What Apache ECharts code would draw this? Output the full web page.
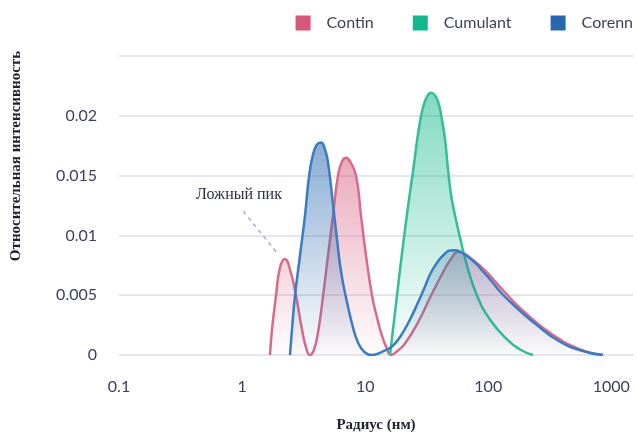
<!DOCTYPE html>
<html><head><meta charset="utf-8">
<script src="https://cdn.jsdelivr.net/npm/echarts@6/dist/echarts.min.js"></script>
<style>html,body{margin:0;padding:0;background:#fff}#c{width:637px;height:432px}</style>
</head><body><div id="c"></div>
<script>
const seriesNames = ['Contin', 'Cumulant', 'Corenn'];

const continRadius = [1.686, 1.750, 1.887, 2.033, 2.232, 2.451, 2.742, 3.068, 3.306, 3.563, 3.840, 4.139, 4.545, 4.991, 5.480, 6.017, 6.484, 6.988, 7.531, 8.425, 9.250, 10.16, 11.37, 12.48, 13.45, 14.77, 16.22, 18.49, 21.08, 26.87, 34.27, 44.54, 49.84, 56.80, 63.55, 72.44, 94.12, 136.8, 198.9, 323.5, 536.2, 855.7];
const continIntensity = [0, 0.00213, 0.00497, 0.00732, 0.00803, 0.00715, 0.00497, 0.00213, 0.00063, 0, 0.00046, 0.00188, 0.00489, 0.00832, 0.01166, 0.01501, 0.01618, 0.01649, 0.01618, 0.01501, 0.01166, 0.00832, 0.00497, 0.00314, 0.00188, 0.00071, 0, 0.00038, 0.00096, 0.00272, 0.00497, 0.00723, 0.00803, 0.00861, 0.00849, 0.00807, 0.00707, 0.00523, 0.00355, 0.00180, 0.00054, 0];

const cumulantRadius = [15.92, 16.83, 18.14, 19.55, 21.08, 22.71, 24.47, 27.38, 29.51, 31.80, 34.27, 36.94, 39.06, 41.32, 44.54, 47.11, 49.84, 53.69, 58.96, 67.21, 81.04, 103.3, 142.0, 181.2, 231.0];
const cumulantIntensity = [0, 0.00213, 0.00497, 0.00782, 0.01049, 0.01300, 0.01534, 0.01902, 0.02069, 0.02161, 0.02192, 0.02170, 0.02120, 0.02011, 0.01802, 0.01551, 0.01342, 0.01166, 0.00982, 0.00748, 0.00497, 0.00297, 0.00130, 0.00046, 0];

const corennRadius = [2.451, 2.544, 2.691, 2.955, 3.245, 3.497, 3.769, 4.062, 4.378, 4.717, 4.991, 5.480, 5.905, 6.364, 6.988, 7.965, 8.746, 9.786, 11.15, 14.50, 16.83, 19.55, 22.71, 26.87, 30.64, 34.27, 39.06, 43.71, 48.91, 53.69, 60.07, 78.06, 90.66, 105.3, 124.6, 153.1, 191.6, 239.8, 368.7, 567.1, 855.7];
const corennIntensity = [0, 0.00213, 0.00497, 0.00832, 0.01166, 0.01492, 0.01676, 0.01760, 0.01777, 0.01718, 0.01609, 0.01258, 0.00966, 0.00698, 0.00481, 0.00230, 0.00105, 0.00029, 0, 0.00038, 0.00079, 0.00163, 0.00280, 0.00439, 0.00573, 0.00690, 0.00782, 0.00840, 0.00874, 0.00876, 0.00861, 0.00773, 0.00698, 0.00623, 0.00531, 0.00439, 0.00347, 0.00263, 0.00121, 0.00038, 0];

const yTicks = [0, 0.005, 0.01, 0.015, 0.02, 0.025];
const xTickLabels = ['0.1', '1', '10', '100', '1000'];
const xAxisTitle = 'Радиус (нм)';
const yAxisTitle = 'Относительная интенсивность';
const falsePeakText = 'Ложный пик';
const falsePeakLineFrom = [1.023, 0.01202];
const falsePeakLineTo = [1.969, 0.0084];
const falsePeakLabelAt = [0.944, 0.01340];

const legendColors = ['#d5577a', '#13b78b', '#2767b0'];
const lineColors = ['#d96b8a', '#35bd96', '#3b7bc1'];
const fillTop = ['rgba(213,87,122,0.72)', 'rgba(19,183,139,0.75)', 'rgba(39,103,176,0.78)'];
const fillBottom = ['rgba(213,87,122,0.02)', 'rgba(19,183,139,0.02)', 'rgba(39,103,176,0.02)'];

const zip = (xs, ys) => xs.map((x, i) => [x, ys[i]]);
const seriesData = [zip(continRadius, continIntensity), zip(cumulantRadius, cumulantIntensity), zip(corennRadius, corennIntensity)];

const textColor = '#3b3f5e';
const sansFont = 'Lato, "Open Sans", sans-serif';
const serifFont = '"Liberation Serif", "DejaVu Serif", serif';

const chart = echarts.init(document.getElementById('c'), null, {renderer: 'canvas'});

const series = seriesNames.map((name, i) => {
  const s = {
    name: name,
    type: 'line',
    data: seriesData[i],
    smooth: 0.5,
    showSymbol: false,
    symbol: 'none',
    color: legendColors[i],
    lineStyle: {color: lineColors[i], width: 2.5},
    areaStyle: {
      color: new echarts.graphic.LinearGradient(0, 0, 0, 1, [
        {offset: 0, color: fillTop[i]},
        {offset: 1, color: fillBottom[i]}
      ])
    },
    z: 2 + i
  };
  if (i === 0) {
    s.markLine = {
      silent: true,
      symbol: ['none', 'none'],
      label: {show: false},
      lineStyle: {type: [4, 4], color: '#a9acbf', width: 1.5},
      data: [[{coord: falsePeakLineFrom}, {coord: falsePeakLineTo}]]
    };
    s.markPoint = {
      silent: true,
      symbol: 'circle',
      symbolSize: 0,
      label: {show: true, position: 'inside', formatter: falsePeakText, color: '#2b2d42', fontFamily: serifFont, fontSize: 16},
      data: [{coord: falsePeakLabelAt}]
    };
  }
  return s;
});

chart.setOption({
  animation: false,
  backgroundColor: '#ffffff',
  grid: {left: 119, right: 4, top: 56, bottom: 77, containLabel: false, outerBoundsMode: 'none'},
  legend: {
    data: seriesNames,
    right: 4,
    top: 15,
    padding: 0,
    icon: 'rect',
    itemWidth: 15,
    itemHeight: 15,
    itemGap: 39,
    textStyle: {color: textColor, fontFamily: sansFont, fontSize: 16, padding: [0, 0, 0, 11]}
  },
  xAxis: {
    type: 'log',
    logBase: 10,
    min: 0.1,
    max: 1500,
    name: xAxisTitle,
    nameLocation: 'middle',
    nameGap: 63,
    nameTextStyle: {fontFamily: serifFont, fontWeight: 'bold', fontSize: 15, color: '#1f2130'},
    axisLine: {show: false},
    axisTick: {show: false},
    splitLine: {show: false},
    axisLabel: {
      showMaxLabel: false,
      margin: 24,
      color: textColor,
      fontFamily: sansFont,
      fontSize: 16,
      formatter: v => {
        const e = Math.round(Math.log10(v));
        if (Math.abs(Math.log10(v) - e) > 1e-6) return '';
        return xTickLabels[e + 1] || '';
      }
    }
  },
  yAxis: {
    type: 'value',
    min: yTicks[0],
    max: yTicks[yTicks.length - 1],
    interval: 0.005,
    axisLine: {show: false},
    axisTick: {show: false},
    splitLine: {lineStyle: {color: '#dcdde8', width: 1.5}},
    axisLabel: {
      showMaxLabel: false,
      margin: 22,
      color: textColor,
      fontFamily: sansFont,
      fontSize: 16,
      formatter: v => String(+v.toFixed(3))
    }
  },
  graphic: [{
    type: 'text',
    x: 16,
    y: 156,
    rotation: Math.PI / 2,
    style: {
      text: yAxisTitle,
      fill: '#1f2130',
      font: 'bold 15px "Liberation Serif", "DejaVu Serif", serif',
      textAlign: 'center',
      textVerticalAlign: 'middle'
    }
  }],
  series: series
});
</script>
</body></html>
